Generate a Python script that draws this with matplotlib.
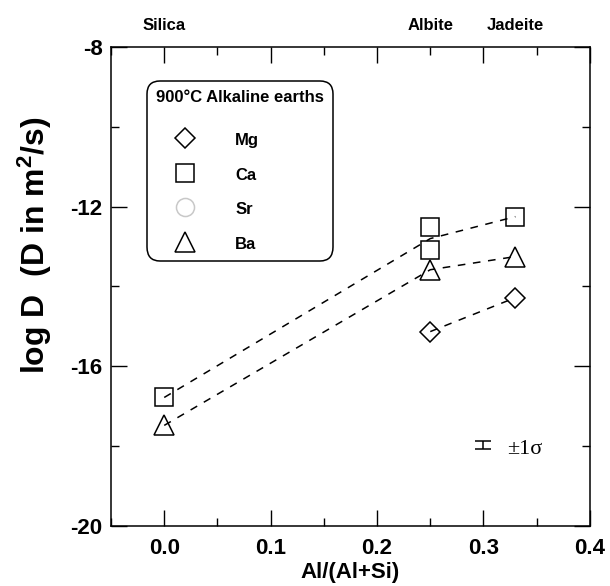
import numpy as np
import matplotlib
matplotlib.use("Agg")
import matplotlib.pyplot as plt
from matplotlib.transforms import blended_transform_factory

plt.rcParams['font.family'] = ['Liberation Sans', 'DejaVu Sans']
plt.rcParams['font.weight'] = 'bold'
plt.rcParams['mathtext.fontset'] = 'custom'
plt.rcParams['mathtext.rm'] = 'Liberation Sans:bold'
plt.rcParams['mathtext.bf'] = 'Liberation Sans:bold'
plt.rcParams['mathtext.it'] = 'Liberation Sans:bold'

# ---- data ----
mg_x = [0.25, 0.33]
mg_y = [-15.13, -14.28]
ca_x = [0.0, 0.25, 0.25, 0.33]
ca_y = [-16.78, -12.50, -13.08, -12.25]
sr_x = []
sr_y = []
ba_x = [0.0, 0.25, 0.33]
ba_y = [-17.48, -13.58, -13.25]

# trend-line knots
fit_x = [0.0, 0.25, 0.33]
ca_fit = [-16.78, -12.80, -12.25]
ba_fit = [-17.48, -13.58, -13.25]
mg_fit_x = [0.25, 0.33]
mg_fit = [-15.13, -14.28]

top_labels = ["Silica", "Albite", "Jadeite"]
top_x = [0.0, 0.25, 0.33]

err_x = [0.30]
err_y = [-17.98]
err_sigma = [0.10]

xticks = [0.0, 0.1, 0.2, 0.3, 0.4]
yticks = [-20, -16, -12, -8]

fig = plt.figure(figsize=(6.10, 5.86), dpi=100)
ax = fig.add_axes([0.182, 0.1024, 0.785, 0.8174])

dash = (0, (5, 5))
ax.plot(fit_x, ca_fit, color='black', lw=1.1, linestyle=dash, zorder=3)
ax.plot(fit_x, ba_fit, color='black', lw=1.1, linestyle=dash, zorder=3)
ax.plot(mg_fit_x, mg_fit, color='black', lw=1.1, linestyle=dash, zorder=3)

mk = dict(linestyle='none', markerfacecolor='none', markeredgewidth=1.1, zorder=2)
ax.plot(mg_x, mg_y, marker='D', markersize=10, markeredgecolor='black', label='Mg', **mk)
ax.plot(ca_x, ca_y, marker='s', markersize=13, markeredgecolor='black', label='Ca', **mk)
ax.plot(sr_x, sr_y, marker='o', markersize=13, markeredgecolor='#c8c8c8', label='Sr', **mk)
ax.plot(ba_x, ba_y, marker='^', markersize=14, markeredgecolor='black', label='Ba', **mk)

ax.errorbar(err_x, err_y, yerr=err_sigma, fmt='none', ecolor='black', elinewidth=1.1,
            capsize=6, capthick=1.1)
ax.text(0.322, -18.08, "±1σ", family=['Liberation Serif', 'DejaVu Serif'],
        fontweight='normal', fontsize=16, va='center', ha='left')

ax.set_xlim(-0.05, 0.4)
ax.set_ylim(-20, -8)
ax.set_xticks(xticks)
ax.set_xticklabels([f"{v:.1f}" for v in xticks])
ax.set_yticks(yticks)
ax.set_yticklabels([f"{v:d}" for v in yticks])
ax.set_xticks([-0.05 + 0.1 * i for i in range(5)], minor=True)
ax.set_yticks([-18, -14, -10], minor=True)
ax.tick_params(which='both', direction='in', top=True, right=True, width=1.0)
ax.tick_params(which='major', length=11.5, labelsize=16)
ax.tick_params(axis='x', which='major', pad=9)
ax.tick_params(axis='y', which='major', pad=6)
ax.tick_params(which='minor', length=5.8)
for s in ax.spines.values():
    s.set_linewidth(1.1)

ax.set_xlabel("Al/(Al+Si)", fontsize=16, fontweight='bold', labelpad=2)
ax.set_ylabel(r"log D  (D in m$^{2}$/s)", fontsize=23, fontweight='bold')
ax.yaxis.set_label_coords(-0.12, 0.587)

tr = blended_transform_factory(ax.transData, ax.transAxes)
for lab, xv in zip(top_labels, top_x):
    ax.text(xv, 1.044, lab, transform=tr, ha='center', va='center', fontsize=12,
            fontweight='bold')

leg = ax.legend(loc='upper left', bbox_to_anchor=(0.075, 0.929), borderaxespad=0,
                title="900°C Alkaline earths\n", title_fontsize=12, fontsize=12,
                alignment='left', frameon=True, fancybox=True, framealpha=1,
                edgecolor='black', labelspacing=1.07, handlelength=3.5,
                handletextpad=1.25, handleheight=1.1, borderpad=0.55)
leg.get_frame().set_linewidth(1.1)
leg.get_frame().set_boxstyle('round', pad=0, rounding_size=0.8)
leg.get_title().set_fontweight('bold')
leg.get_title().set_linespacing(0.45)

fig.savefig("out.png", dpi=100)
